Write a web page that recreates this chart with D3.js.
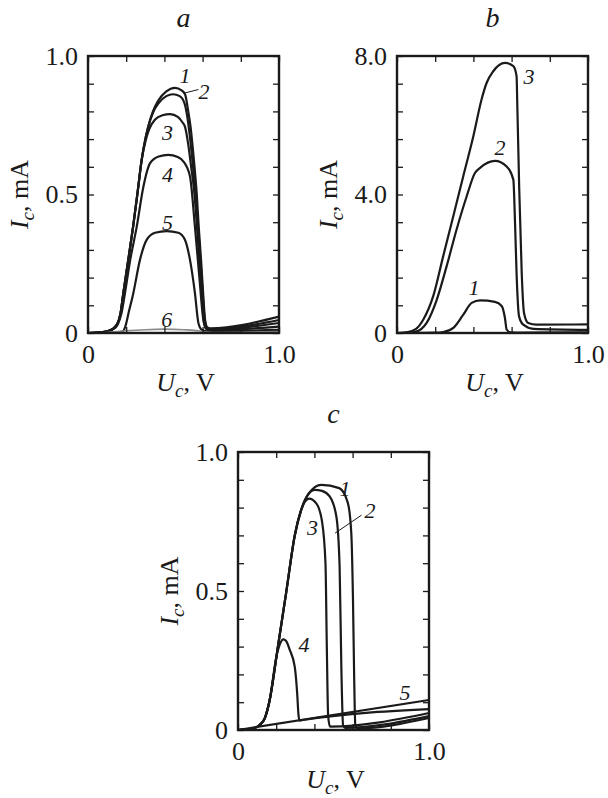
<!DOCTYPE html>
<html>
<head>
<meta charset="utf-8">
<script src="https://cdn.jsdelivr.net/npm/d3@7"></script>
<style>
  body { margin: 0; background: #fff; }
  text { font-family: "Liberation Serif", "Times New Roman", serif; fill: #1a1a1a; }
</style>
</head>
<body>
<div id="chart"></div>
<script>
// ticks
const xTicks = [0, 0.2, 0.4, 0.6, 0.8, 1.0]
const xTickLabels = ["0", "", "", "", "", "1.0"]
const yTicksI = [0, 0.1, 0.2, 0.3, 0.4, 0.5, 0.6, 0.7, 0.8, 0.9, 1.0]
const yTickLabelsI = ["0", "", "", "", "", "0.5", "", "", "", "", "1.0"]
const yTicksB = [0, 0.8, 1.6, 2.4, 3.2, 4.0, 4.8, 5.6, 6.4, 7.2, 8.0]
const yTickLabelsB = ["0", "", "", "", "", "4.0", "", "", "", "", "8.0"]

// panel a : [Uc, Ic]
const a1 = [[0,0],[0.05,0.001],[0.1,0.006],[0.13,0.015],[0.155,0.035],[0.17,0.07],[0.185,0.144],[0.21,0.26],[0.236,0.383],[0.26,0.51],[0.281,0.625],[0.3,0.7],[0.315,0.744],[0.34,0.8],[0.367,0.838],[0.41,0.872],[0.455,0.885],[0.49,0.876],[0.508,0.862],[0.525,0.8],[0.537,0.744],[0.555,0.62],[0.569,0.505],[0.58,0.38],[0.592,0.263],[0.605,0.12],[0.613,0.047],[0.625,0.02],[0.64,0.017],[1.0,0.059]]
const a2 = [[0,0],[0.05,0.001],[0.1,0.006],[0.13,0.015],[0.155,0.035],[0.17,0.07],[0.185,0.144],[0.21,0.26],[0.236,0.383],[0.26,0.51],[0.281,0.625],[0.3,0.7],[0.315,0.744],[0.34,0.795],[0.37,0.83],[0.41,0.855],[0.445,0.862],[0.48,0.855],[0.505,0.83],[0.52,0.78],[0.535,0.7],[0.55,0.6],[0.565,0.48],[0.58,0.35],[0.595,0.2],[0.608,0.07],[0.62,0.02],[0.635,0.014],[1.0,0.047]]
const a3 = [[0,0],[0.05,0.001],[0.1,0.006],[0.13,0.015],[0.155,0.035],[0.17,0.07],[0.185,0.144],[0.21,0.26],[0.236,0.383],[0.26,0.51],[0.281,0.625],[0.3,0.69],[0.32,0.735],[0.35,0.77],[0.39,0.786],[0.43,0.79],[0.47,0.78],[0.495,0.76],[0.508,0.744],[0.525,0.68],[0.54,0.6],[0.557,0.505],[0.57,0.39],[0.583,0.263],[0.597,0.12],[0.607,0.04],[0.618,0.015],[0.635,0.012],[1.0,0.036]]
const a4 = [[0,0],[0.05,0.001],[0.1,0.005],[0.13,0.013],[0.155,0.03],[0.175,0.07],[0.195,0.15],[0.22,0.26],[0.255,0.383],[0.29,0.528],[0.325,0.613],[0.37,0.637],[0.42,0.643],[0.47,0.635],[0.5,0.619],[0.534,0.565],[0.56,0.383],[0.583,0.202],[0.604,0.047],[0.618,0.018],[0.635,0.01],[1.0,0.023]]
const a5 = [[0,0],[0.1,0.001],[0.18,0.005],[0.194,0.02],[0.215,0.08],[0.237,0.143],[0.272,0.264],[0.307,0.336],[0.351,0.362],[0.412,0.368],[0.473,0.362],[0.508,0.336],[0.534,0.264],[0.56,0.143],[0.578,0.036],[0.595,0.012],[0.62,0.006],[1.0,0.011]]
const a6 = [[0,0],[0.1,0.002],[0.2,0.008],[0.3,0.012],[0.4,0.014],[0.5,0.012],[0.58,0.008],[0.62,0.003],[0.65,0.002],[1.0,0.005]]

// panel b
const b1 = [[0,0],[0.1,0.005],[0.2,0.01],[0.242,0.03],[0.295,0.15],[0.347,0.53],[0.391,0.87],[0.435,0.94],[0.513,0.9],[0.548,0.78],[0.565,0.44],[0.574,0.1],[0.592,0.02],[0.65,0.01],[1.0,0.02]]
const b2 = [[0,0],[0.05,0.005],[0.1,0.04],[0.155,0.29],[0.208,0.96],[0.26,1.93],[0.312,2.99],[0.365,3.95],[0.408,4.62],[0.435,4.77],[0.513,4.97],[0.574,4.81],[0.609,4.43],[0.618,3.18],[0.626,1.73],[0.639,0.48],[0.661,0.24],[0.714,0.12],[1.0,0.09]]
const b3 = [[0,0],[0.05,0.02],[0.1,0.12],[0.138,0.39],[0.19,1.07],[0.242,2.22],[0.295,3.38],[0.347,4.53],[0.4,5.69],[0.443,6.75],[0.469,7.22],[0.504,7.56],[0.565,7.8],[0.609,7.71],[0.626,7.42],[0.63,6.55],[0.64,4.15],[0.653,1.73],[0.665,0.58],[0.687,0.29],[0.731,0.24],[1.0,0.25]]

// panel c
const c1 = [[0,0],[0.05,0.002],[0.09,0.008],[0.113,0.018],[0.14,0.042],[0.166,0.108],[0.209,0.3],[0.253,0.498],[0.297,0.699],[0.33,0.79],[0.37,0.85],[0.436,0.882],[0.53,0.87],[0.575,0.817],[0.593,0.71],[0.602,0.47],[0.608,0.2],[0.614,0.02],[0.625,0.006],[1.0,0.043]]
const c2 = [[0,0],[0.05,0.002],[0.09,0.008],[0.113,0.018],[0.14,0.042],[0.166,0.108],[0.209,0.3],[0.253,0.498],[0.297,0.699],[0.33,0.79],[0.36,0.84],[0.401,0.864],[0.44,0.86],[0.48,0.84],[0.515,0.768],[0.532,0.588],[0.541,0.228],[0.55,0.018],[0.56,0.008],[1.0,0.05]]
const c3 = [[0,0],[0.05,0.002],[0.09,0.008],[0.113,0.018],[0.14,0.042],[0.166,0.108],[0.209,0.3],[0.253,0.498],[0.297,0.699],[0.33,0.79],[0.372,0.832],[0.41,0.815],[0.44,0.75],[0.458,0.6],[0.465,0.3],[0.472,0.05],[0.482,0.012],[1.0,0.061]]
const c4 = [[0,0],[0.05,0.002],[0.09,0.008],[0.113,0.018],[0.14,0.042],[0.166,0.108],[0.2,0.26],[0.22,0.31],[0.237,0.326],[0.252,0.32],[0.27,0.29],[0.297,0.228],[0.31,0.13],[0.316,0.06],[0.322,0.034],[0.34,0.036],[1.0,0.075]]
const c5 = [[0,0],[1.0,0.108]]

// curve numbers and leaders, in data units
const notesA = [{t:"1",x:0.508,y:0.931},{t:"2",x:0.607,y:0.874},{t:"3",x:0.416,y:0.724},{t:"4",x:0.416,y:0.574},{t:"5",x:0.416,y:0.4},{t:"6",x:0.412,y:0.05}]
const notesB = [{t:"3",x:0.691,y:7.42},{t:"2",x:0.539,y:5.36},{t:"1",x:0.403,y:1.33}]
const notesC = [{t:"1",x:0.56,y:0.871},{t:"2",x:0.691,y:0.791},{t:"3",x:0.39,y:0.728},{t:"4",x:0.346,y:0.31},{t:"5",x:0.874,y:0.135}]
const leadersA = [[0.499,0.865,0.578,0.879]]
const leadersC = [[0.508,0.708,0.647,0.773]]

const svg = d3.select('#chart')
  .append('svg')
  .attr('width', 608)
  .attr('height', 798)

svg.append('rect').attr('width', 608).attr('height', 798).attr('fill', '#fff')

const panels = [
  {name: 'a', left: 88, top: 56, w: 191, h: 277, yMax: 1.0, yTicks: yTicksI, yLabels: yTickLabelsI,
    curves: [a1, a2, a3, a4, a5, a6], gray: [5], notes: notesA, leaders: leadersA},
  {name: 'b', left: 397, top: 56, w: 191, h: 277, yMax: 8.0, yTicks: yTicksB, yLabels: yTickLabelsB,
    curves: [b1, b2, b3], gray: [], notes: notesB, leaders: []},
  {name: 'c', left: 238, top: 452, w: 191, h: 278, yMax: 1.0, yTicks: yTicksI, yLabels: yTickLabelsI,
    curves: [c1, c2, c3, c4, c5], gray: [], notes: notesC, leaders: leadersC},
]

panels.forEach(p => {
  const x = d3.scaleLinear().domain([0, 1]).range([0, p.w])
  const y = d3.scaleLinear().domain([0, p.yMax]).range([p.h, 0])

  const g = svg.append('g').attr('transform', `translate(${p.left}, ${p.top})`)

  const line = d3.line()
    .x(d => x(d[0]))
    .y(d => y(d[1]))
    .curve(d3.curveMonotoneX)

  g.append('g')
    .selectAll('path')
    .data(p.curves)
    .join('path')
    .attr('d', line)
    .attr('fill', 'none')
    .attr('stroke', (d, i) => p.gray.includes(i) ? '#8a8a8a' : '#1a1a1a')
    .attr('stroke-width', (d, i) => p.gray.includes(i) ? 1.6 : 2.2)
    .attr('stroke-linejoin', 'round')

  // axes, ticks inward
  const fmtX = v => xTickLabels[xTicks.indexOf(v)]
  const fmtY = v => p.yLabels[p.yTicks.indexOf(v)]

  g.append('g').attr('transform', `translate(0, ${p.h})`)
    .call(d3.axisBottom(x).tickValues(xTicks).tickSize(-6).tickSizeOuter(0).tickPadding(12).tickFormat(fmtX))
  g.append('g')
    .call(d3.axisLeft(y).tickValues(p.yTicks).tickSize(-6).tickSizeOuter(0).tickPadding(10).tickFormat(fmtY))
  g.append('g').call(d3.axisTop(x).tickValues(xTicks).tickSize(-6).tickSizeOuter(0).tickFormat(''))
  g.append('g').attr('transform', `translate(${p.w}, 0)`)
    .call(d3.axisRight(y).tickValues(p.yTicks).tickSize(-6).tickSizeOuter(0).tickFormat(''))

  g.selectAll('.domain').remove()
  g.selectAll('.tick line').attr('stroke', '#1a1a1a').attr('stroke-width', 1.3)
  g.selectAll('.tick text')
    .attr('font-size', 26)
    .attr('fill', '#1a1a1a')

  g.append('rect')
    .attr('width', p.w)
    .attr('height', p.h)
    .attr('fill', 'none')
    .attr('stroke', '#1a1a1a')
    .attr('stroke-width', 2.4)

  // curve numbers
  g.append('g')
    .selectAll('text')
    .data(p.notes)
    .join('text')
    .attr('x', d => x(d.x))
    .attr('y', d => y(d.y))
    .attr('dy', '0.35em')
    .attr('text-anchor', 'middle')
    .attr('font-style', 'italic')
    .attr('font-size', 22)
    .text(d => d.t)

  g.append('g')
    .selectAll('line')
    .data(p.leaders)
    .join('line')
    .attr('x1', d => x(d[0])).attr('y1', d => y(d[1]))
    .attr('x2', d => x(d[2])).attr('y2', d => y(d[3]))
    .attr('stroke', '#1a1a1a')
    .attr('stroke-width', 1)

  // panel letter
  g.append('text')
    .attr('x', p.w / 2)
    .attr('y', -29)
    .attr('text-anchor', 'middle')
    .attr('font-style', 'italic')
    .attr('font-size', 28)
    .text(p.name)

  // x title
  const xt = g.append('text')
    .attr('x', p.w / 2 + 2)
    .attr('y', p.h + 58)
    .attr('text-anchor', 'middle')
    .attr('font-size', 26)
  xt.append('tspan').attr('font-style', 'italic').text('U')
  xt.append('tspan').attr('font-style', 'italic').attr('font-size', 19).attr('dy', 6).text('c')
  xt.append('tspan').attr('dy', -6).text(', V')

  // y title
  const yt = g.append('text')
    .attr('transform', `translate(-60, ${p.h / 2}) rotate(-90)`)
    .attr('text-anchor', 'middle')
    .attr('font-size', 26)
  yt.append('tspan').attr('font-style', 'italic').text('I')
  yt.append('tspan').attr('font-style', 'italic').attr('font-size', 19).attr('dy', 6).text('c')
  yt.append('tspan').attr('dy', -6).text(', mA')
})
</script>
</body>
</html>
